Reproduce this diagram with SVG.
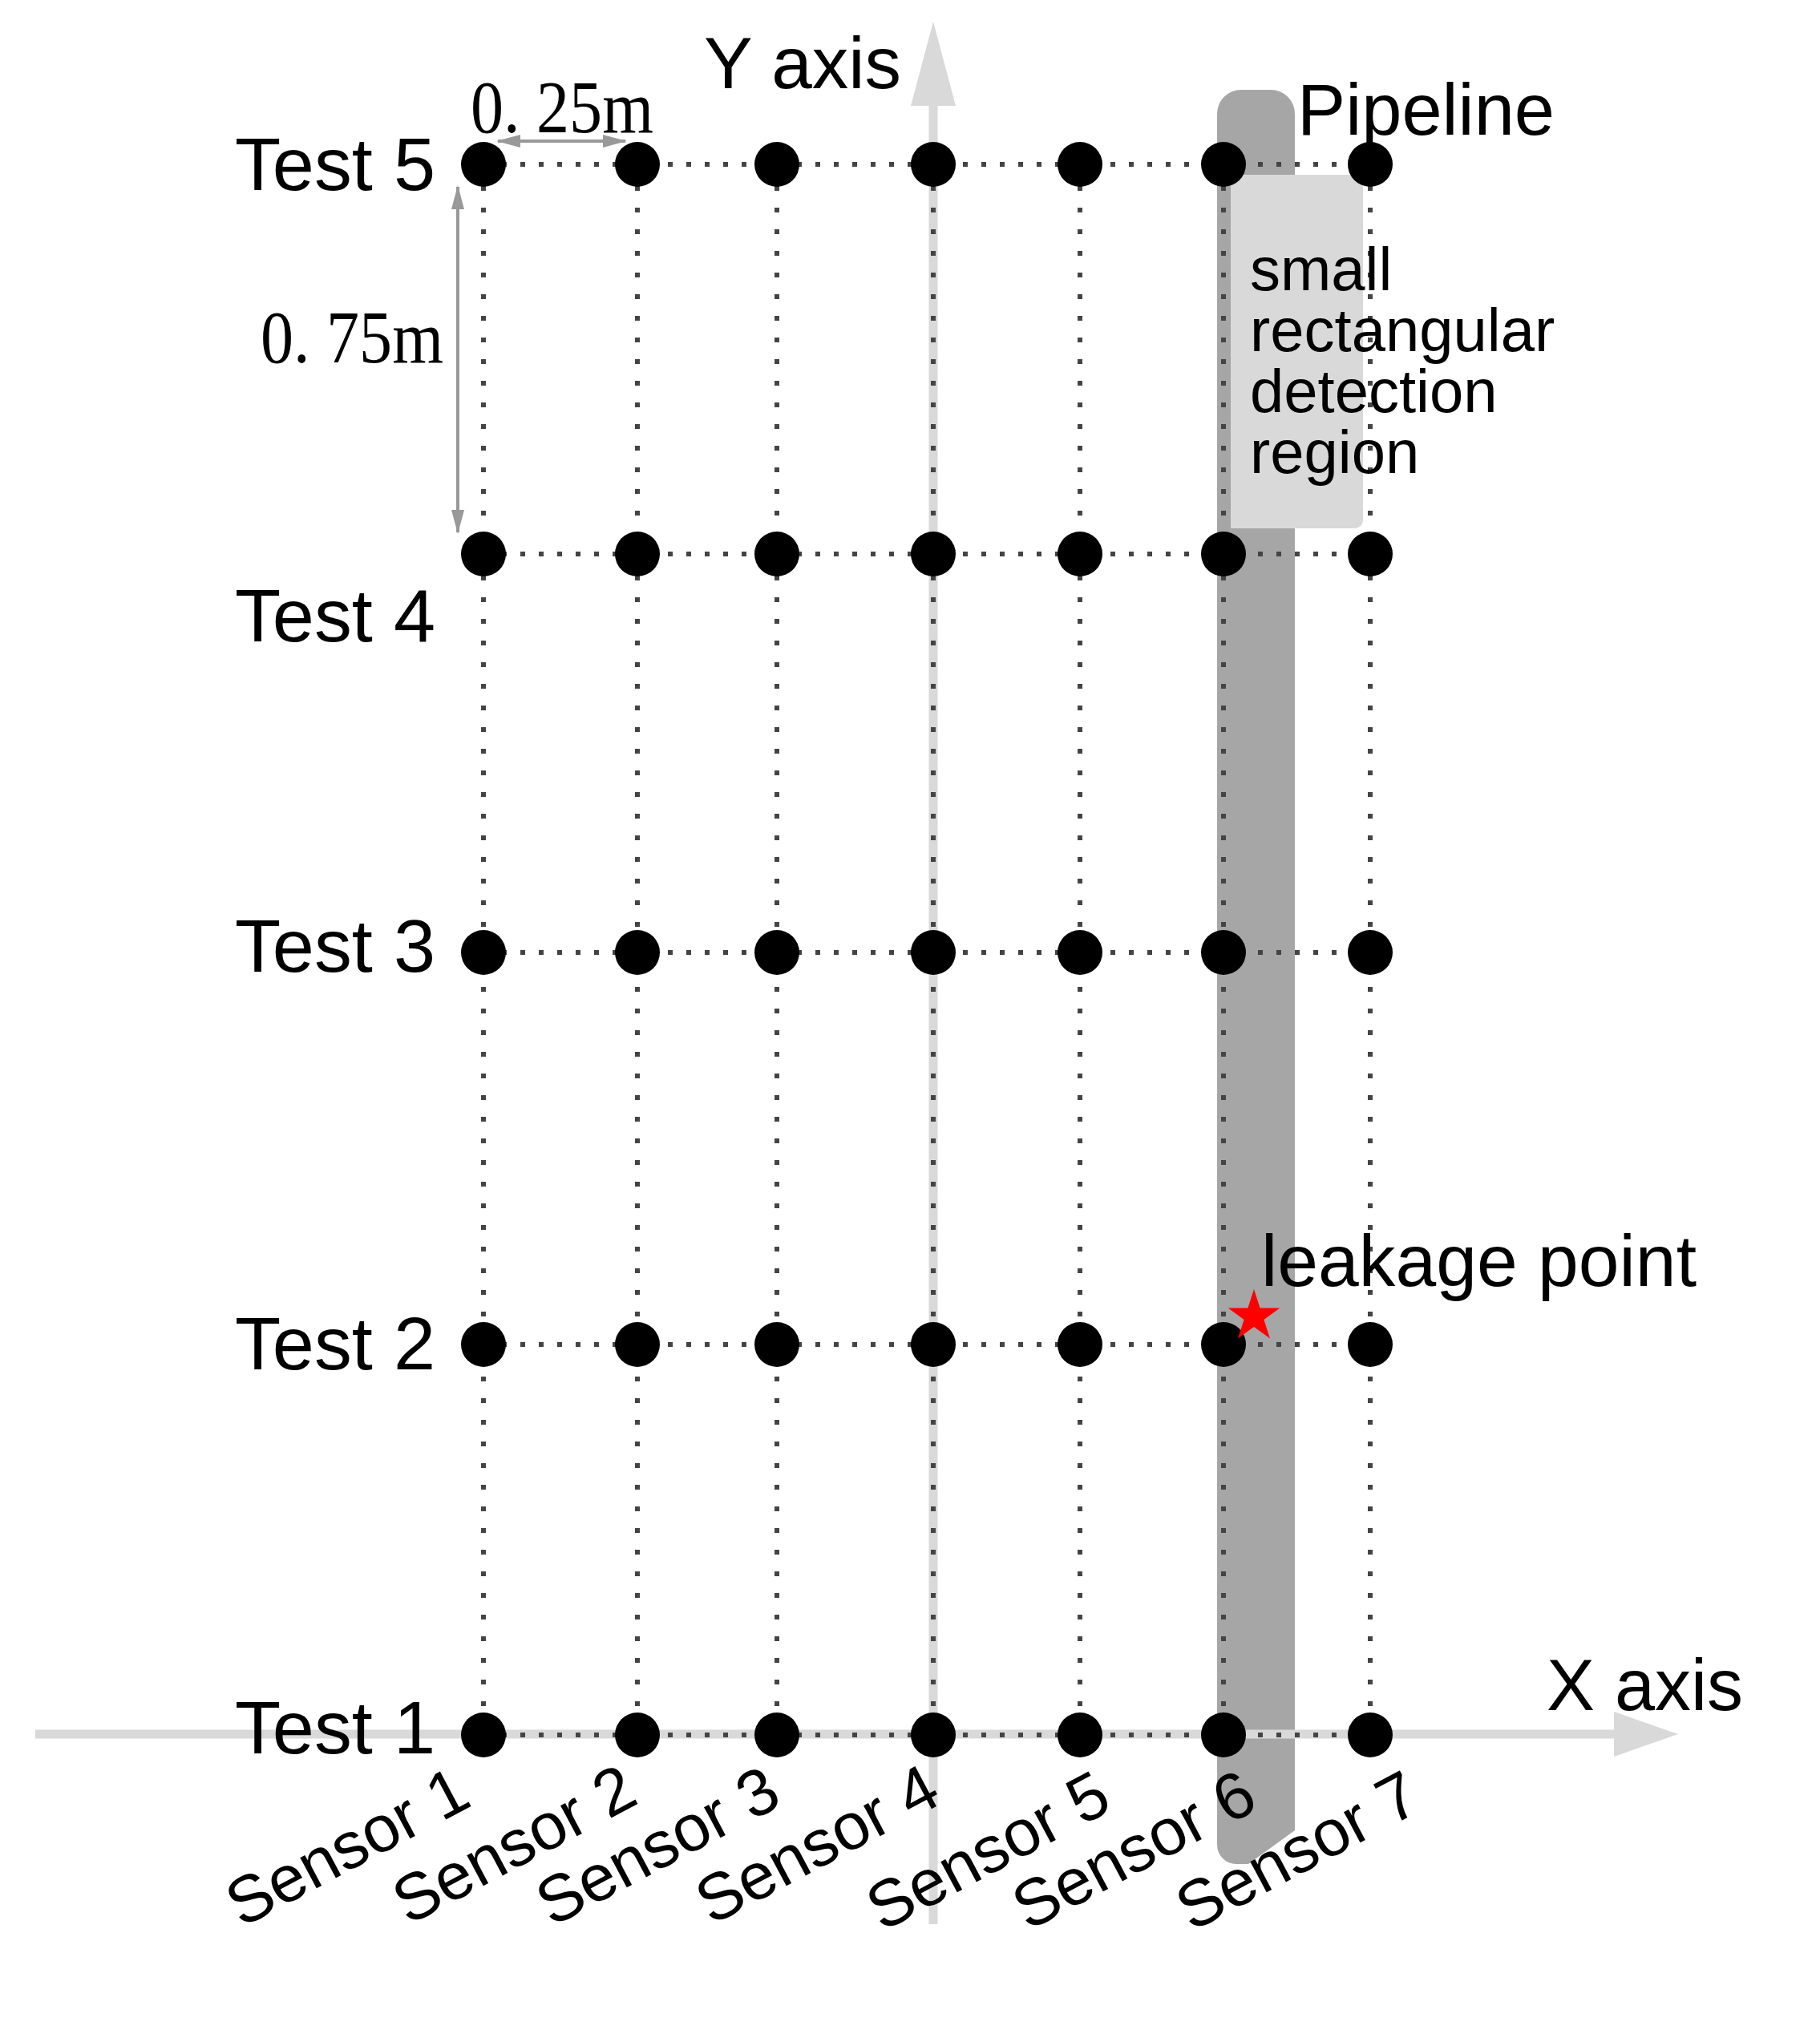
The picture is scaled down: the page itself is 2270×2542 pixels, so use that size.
<svg xmlns="http://www.w3.org/2000/svg" width="2270" height="2542" viewBox="0 0 2270 2542">
<style>
.lbl{font-family:"Liberation Sans",Arial,sans-serif;fill:#000}
.big{font-size:90px}
.test{font-size:92px}
.sen{font-size:82px}
.reg{font-size:76px}
.dim{font-family:"Liberation Serif","Times New Roman",serif;font-size:94px;fill:#000}
.dotH{stroke:#444;stroke-width:6;stroke-dasharray:6 17;fill:none}
.dotV{stroke:#444;stroke-width:6;stroke-dasharray:6 21;fill:none}
.axis{stroke:#d9d9d9;stroke-width:11;fill:none}
.axhead{fill:#d9d9d9}
.dimline{stroke:#999;stroke-width:4;fill:none;marker-start:url(#ah);marker-end:url(#ah)}
.node{fill:#000}
</style>
<defs>
<marker id="ah" viewBox="0 0 30 16" refX="28" refY="8" markerWidth="30" markerHeight="16" markerUnits="userSpaceOnUse" orient="auto-start-reverse">
<path d="M0,0 L30,8 L0,16 Z" fill="#999"/>
</marker>
</defs>
<rect width="2270" height="2542" fill="#fff"/>

<g id="pipeline">
<path d="M1518,142 A30,30 0 0 1 1548,112 L1585,112 A30,30 0 0 1 1615,142 L1615,2283 L1557,2325 L1542,2325 A24,24 0 0 1 1518,2301 Z" fill="#a6a6a6"/>
</g>
<g id="detection-region">
<path d="M1535,218 L1700,218 L1700,649 A10,10 0 0 1 1690,659 L1535,659 Z" fill="#d9d9d9"/>
</g>

<g id="axes">
<line class="axis" x1="44" y1="2163" x2="2015" y2="2163"/>
<polygon class="axhead" points="2013,2135 2093,2163 2013,2191"/>
<line class="axis" x1="1164" y1="2400" x2="1164" y2="130"/>
<polygon class="axhead" points="1136,132 1164,27 1192,132"/>
</g>

<g id="connectors">
<line class="dotH" x1="603" y1="205" x2="1709" y2="205"/>
<line class="dotH" x1="603" y1="691" x2="1709" y2="691"/>
<line class="dotH" x1="603" y1="1188" x2="1709" y2="1188"/>
<line class="dotH" x1="603" y1="1677" x2="1709" y2="1677"/>
<line class="dotH" x1="603" y1="2164" x2="1709" y2="2164"/>
<line class="dotV" x1="603" y1="205" x2="603" y2="2164"/>
<line class="dotV" x1="795" y1="205" x2="795" y2="2164"/>
<line class="dotV" x1="969" y1="205" x2="969" y2="2164"/>
<line class="dotV" x1="1164" y1="205" x2="1164" y2="2164"/>
<line class="dotV" x1="1347" y1="205" x2="1347" y2="2164"/>
<line class="dotV" x1="1526" y1="205" x2="1526" y2="2164"/>
<line class="dotV" x1="1709" y1="205" x2="1709" y2="2164"/>
<line class="dimline" x1="621" y1="176" x2="780" y2="176"/>
<line class="dimline" x1="571" y1="233" x2="571" y2="664"/>
</g>

<g id="sensor-nodes">
<g id="s1-t5"><circle class="node" cx="603" cy="205" r="28"/></g>
<g id="s2-t5"><circle class="node" cx="795" cy="205" r="28"/></g>
<g id="s3-t5"><circle class="node" cx="969" cy="205" r="28"/></g>
<g id="s4-t5"><circle class="node" cx="1164" cy="205" r="28"/></g>
<g id="s5-t5"><circle class="node" cx="1347" cy="205" r="28"/></g>
<g id="s6-t5"><circle class="node" cx="1526" cy="205" r="28"/></g>
<g id="s7-t5"><circle class="node" cx="1709" cy="205" r="28"/></g>
<g id="s1-t4"><circle class="node" cx="603" cy="691" r="28"/></g>
<g id="s2-t4"><circle class="node" cx="795" cy="691" r="28"/></g>
<g id="s3-t4"><circle class="node" cx="969" cy="691" r="28"/></g>
<g id="s4-t4"><circle class="node" cx="1164" cy="691" r="28"/></g>
<g id="s5-t4"><circle class="node" cx="1347" cy="691" r="28"/></g>
<g id="s6-t4"><circle class="node" cx="1526" cy="691" r="28"/></g>
<g id="s7-t4"><circle class="node" cx="1709" cy="691" r="28"/></g>
<g id="s1-t3"><circle class="node" cx="603" cy="1188" r="28"/></g>
<g id="s2-t3"><circle class="node" cx="795" cy="1188" r="28"/></g>
<g id="s3-t3"><circle class="node" cx="969" cy="1188" r="28"/></g>
<g id="s4-t3"><circle class="node" cx="1164" cy="1188" r="28"/></g>
<g id="s5-t3"><circle class="node" cx="1347" cy="1188" r="28"/></g>
<g id="s6-t3"><circle class="node" cx="1526" cy="1188" r="28"/></g>
<g id="s7-t3"><circle class="node" cx="1709" cy="1188" r="28"/></g>
<g id="s1-t2"><circle class="node" cx="603" cy="1677" r="28"/></g>
<g id="s2-t2"><circle class="node" cx="795" cy="1677" r="28"/></g>
<g id="s3-t2"><circle class="node" cx="969" cy="1677" r="28"/></g>
<g id="s4-t2"><circle class="node" cx="1164" cy="1677" r="28"/></g>
<g id="s5-t2"><circle class="node" cx="1347" cy="1677" r="28"/></g>
<g id="s6-t2"><circle class="node" cx="1526" cy="1677" r="28"/></g>
<g id="s7-t2"><circle class="node" cx="1709" cy="1677" r="28"/></g>
<g id="s1-t1"><circle class="node" cx="603" cy="2164" r="28"/></g>
<g id="s2-t1"><circle class="node" cx="795" cy="2164" r="28"/></g>
<g id="s3-t1"><circle class="node" cx="969" cy="2164" r="28"/></g>
<g id="s4-t1"><circle class="node" cx="1164" cy="2164" r="28"/></g>
<g id="s5-t1"><circle class="node" cx="1347" cy="2164" r="28"/></g>
<g id="s6-t1"><circle class="node" cx="1526" cy="2164" r="28"/></g>
<g id="s7-t1"><circle class="node" cx="1709" cy="2164" r="28"/></g>
</g>

<g id="leak-point">
<polygon fill="#ff0000" points="1564,1608 1571.6,1631.5 1596.3,1631.5 1576.4,1646 1584,1669.5 1564,1655 1544,1669.5 1551.6,1646 1531.7,1631.5 1556.4,1631.5"/>
<text class="lbl big" x="1573" y="1604" textLength="543" lengthAdjust="spacingAndGlyphs">leakage point</text>
</g>

<g id="labels">
<text class="lbl big" x="878" y="110" textLength="246" lengthAdjust="spacingAndGlyphs">Y axis</text>
<text class="lbl big" x="1929" y="2133" textLength="245" lengthAdjust="spacingAndGlyphs">X axis</text>
<text class="lbl big" x="1618" y="168" textLength="321" lengthAdjust="spacingAndGlyphs">Pipeline</text>
<text class="lbl reg" x="1559" y="362">small</text>
<text class="lbl reg" x="1559" y="438">rectangular</text>
<text class="lbl reg" x="1559" y="514">detection</text>
<text class="lbl reg" x="1559" y="590">region</text>
<text class="lbl test" x="293" y="237" textLength="250" lengthAdjust="spacingAndGlyphs">Test 5</text>
<text class="lbl test" x="293" y="800" textLength="250" lengthAdjust="spacingAndGlyphs">Test 4</text>
<text class="lbl test" x="293" y="1212" textLength="250" lengthAdjust="spacingAndGlyphs">Test 3</text>
<text class="lbl test" x="293" y="1708" textLength="250" lengthAdjust="spacingAndGlyphs">Test 2</text>
<text class="lbl test" x="293" y="2187" textLength="250" lengthAdjust="spacingAndGlyphs">Test 1</text>
<text class="dim" x="587" y="165" textLength="228" lengthAdjust="spacingAndGlyphs">0. 25m</text>
<text class="dim" x="325" y="452" textLength="228" lengthAdjust="spacingAndGlyphs">0. 75m</text>
<text class="lbl sen" text-anchor="end" transform="translate(591,2251) rotate(-28)">Sensor 1</text>
<text class="lbl sen" text-anchor="end" transform="translate(799,2248) rotate(-28)">Sensor 2</text>
<text class="lbl sen" text-anchor="end" transform="translate(978,2250) rotate(-28)">Sensor 3</text>
<text class="lbl sen" text-anchor="end" transform="translate(1177,2248) rotate(-28)">Sensor 4</text>
<text class="lbl sen" text-anchor="end" transform="translate(1390,2256) rotate(-28)">Sensor 5</text>
<text class="lbl sen" text-anchor="end" transform="translate(1572,2255) rotate(-28)">Sensor 6</text>
<text class="lbl sen" text-anchor="end" transform="translate(1776,2256) rotate(-28)">Sensor 7</text>
</g>
</svg>
